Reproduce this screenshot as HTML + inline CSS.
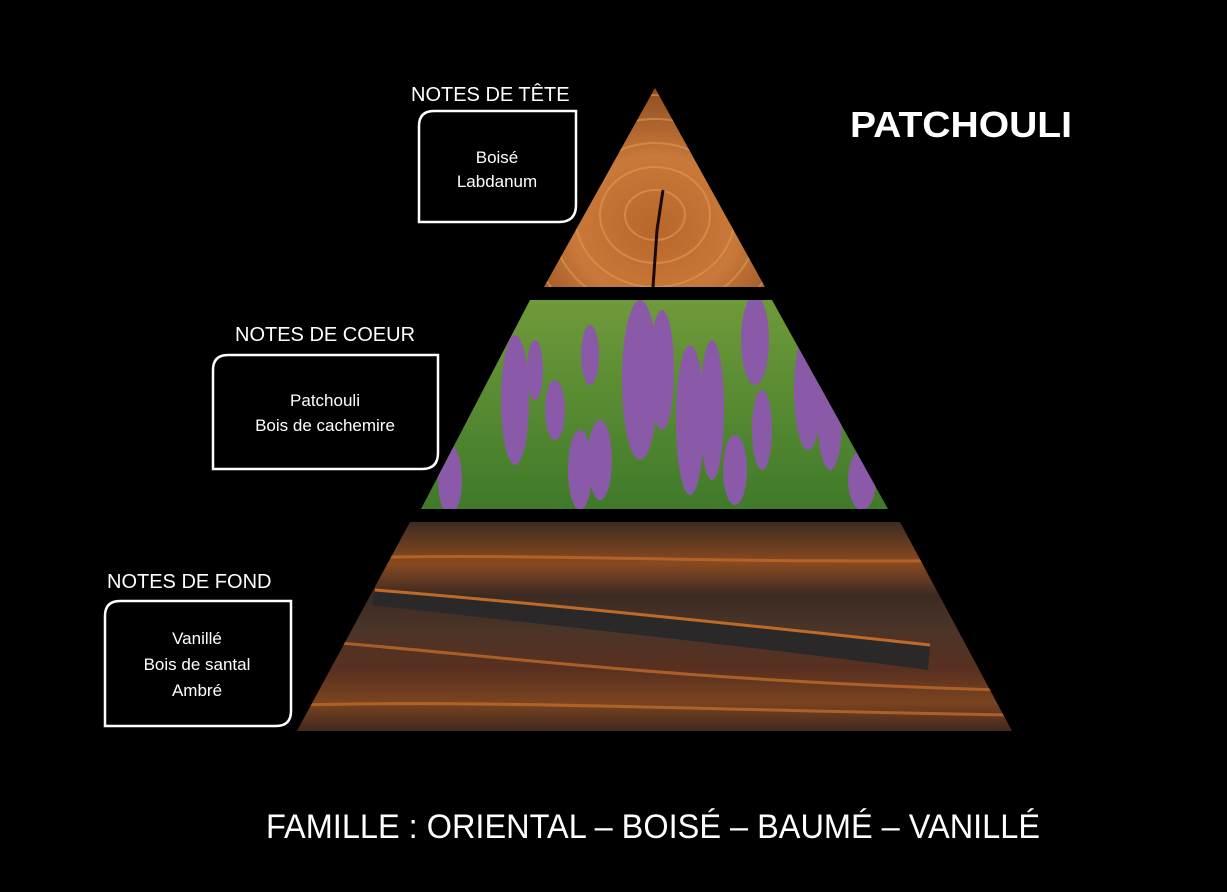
<!DOCTYPE html>
<html><head><meta charset="utf-8"><style>
html,body{margin:0;padding:0;background:#000;}
svg{display:block}
text{font-family:"Liberation Sans","DejaVu Sans",sans-serif;fill:#fff}
</style></head><body>
<svg width="1227" height="892" viewBox="0 0 1227 892" xmlns="http://www.w3.org/2000/svg">
<defs>
<radialGradient id="wood" cx="0.5" cy="0.7" r="0.7">
<stop offset="0" stop-color="#b8662a"/><stop offset="0.5" stop-color="#c9793a"/><stop offset="1" stop-color="#8a4a1e"/>
</radialGradient>
<linearGradient id="grass" x1="0" y1="0" x2="0" y2="1">
<stop offset="0" stop-color="#6f9a3a"/><stop offset="1" stop-color="#3f7a2a"/>
</linearGradient>
<linearGradient id="bark" x1="0" y1="0" x2="0" y2="1">
<stop offset="0" stop-color="#3a2a22"/><stop offset="0.2" stop-color="#8a4a20"/><stop offset="0.35" stop-color="#3c2a22"/><stop offset="0.5" stop-color="#4a3428"/><stop offset="0.7" stop-color="#5a3020"/><stop offset="0.85" stop-color="#7a4420"/><stop offset="1" stop-color="#3a2520"/>
</linearGradient>
<clipPath id="c1"><polygon points="655,88 765,287 544,287"/></clipPath>
<clipPath id="c2"><polygon points="530,300 772,300 888,509 421,509"/></clipPath>
<clipPath id="c3"><polygon points="410,522 900,522 1012,731 297,731"/></clipPath>
</defs>
<rect width="1227" height="892" fill="#000"/>
<g clip-path="url(#c1)">
<rect x="540" y="85" width="230" height="205" fill="url(#wood)"/>
<g fill="none" stroke="#e09a55" stroke-width="2" opacity="0.6">
<ellipse cx="655" cy="215" rx="30" ry="25"/><ellipse cx="655" cy="215" rx="55" ry="48"/><ellipse cx="655" cy="215" rx="80" ry="72"/><ellipse cx="655" cy="215" rx="105" ry="96"/><ellipse cx="655" cy="215" rx="130" ry="120"/>
</g>
<path d="M663,190 L657,230 L653,287" stroke="#1a0a04" stroke-width="3" fill="none"/>
</g>
<g clip-path="url(#c2)">
<rect x="420" y="300" width="470" height="210" fill="url(#grass)"/>
<g fill="#8a5aa8">
<ellipse cx="450" cy="480" rx="12" ry="35"/><ellipse cx="515" cy="400" rx="14" ry="65"/><ellipse cx="535" cy="370" rx="8" ry="30"/><ellipse cx="555" cy="410" rx="10" ry="30"/><ellipse cx="590" cy="355" rx="9" ry="30"/>
<ellipse cx="580" cy="470" rx="12" ry="40"/><ellipse cx="600" cy="460" rx="12" ry="40"/><ellipse cx="640" cy="380" rx="18" ry="80"/><ellipse cx="662" cy="370" rx="12" ry="60"/><ellipse cx="690" cy="420" rx="14" ry="75"/>
<ellipse cx="712" cy="410" rx="12" ry="70"/><ellipse cx="735" cy="470" rx="12" ry="35"/><ellipse cx="755" cy="340" rx="14" ry="45"/><ellipse cx="762" cy="430" rx="10" ry="40"/><ellipse cx="808" cy="390" rx="14" ry="60"/><ellipse cx="830" cy="420" rx="12" ry="50"/><ellipse cx="862" cy="480" rx="14" ry="30"/>
</g>
</g>
<g clip-path="url(#c3)">
<rect x="295" y="520" width="720" height="215" fill="url(#bark)"/>
<g stroke="#c06a2a" stroke-width="3" fill="none" opacity="0.8">
<path d="M300,560 C500,550 700,565 1000,560"/><path d="M300,640 C450,650 650,680 1000,690"/><path d="M300,705 C500,700 700,710 1010,715"/>
</g>
<path d="M375,590 C500,600 700,620 930,645 L928,670 C700,640 500,620 372,605 Z" fill="#2a2828"/>
<path d="M375,590 C500,600 700,620 930,645" stroke="#c06a2a" stroke-width="3" fill="none"/>
</g>
<text x="411" y="101" font-size="20">NOTES DE TÊTE</text>
<path d="M434,111 H576 V205 Q576,222 559,222 H419 V126 Q419,111 434,111 Z" fill="none" stroke="#fff" stroke-width="2.5"/>
<text x="497" y="163" font-size="17" text-anchor="middle">Boisé</text>
<text x="497" y="187" font-size="17" text-anchor="middle">Labdanum</text>
<text x="235" y="341" font-size="20">NOTES DE COEUR</text>
<path d="M228,355 H438 V453 Q438,469 422,469 H213 V370 Q213,355 228,355 Z" fill="none" stroke="#fff" stroke-width="2.5"/>
<text x="325" y="406" font-size="17" text-anchor="middle">Patchouli</text>
<text x="325" y="431" font-size="17" text-anchor="middle">Bois de cachemire</text>
<text x="107" y="588" font-size="20">NOTES DE FOND</text>
<path d="M120,601 H291 V711 Q291,726 276,726 H105 V616 Q105,601 120,601 Z" fill="none" stroke="#fff" stroke-width="2.5"/>
<text x="197" y="644" font-size="17" text-anchor="middle">Vanillé</text>
<text x="197" y="670" font-size="17" text-anchor="middle">Bois de santal</text>
<text x="197" y="696" font-size="17" text-anchor="middle">Ambré</text>
<text x="850" y="137" font-size="36" font-weight="bold" textLength="222" lengthAdjust="spacingAndGlyphs">PATCHOULI</text>
<text x="266" y="838" font-size="34" textLength="774" lengthAdjust="spacingAndGlyphs">FAMILLE : ORIENTAL – BOISÉ – BAUMÉ – VANILLÉ</text>
</svg>
</body></html>
